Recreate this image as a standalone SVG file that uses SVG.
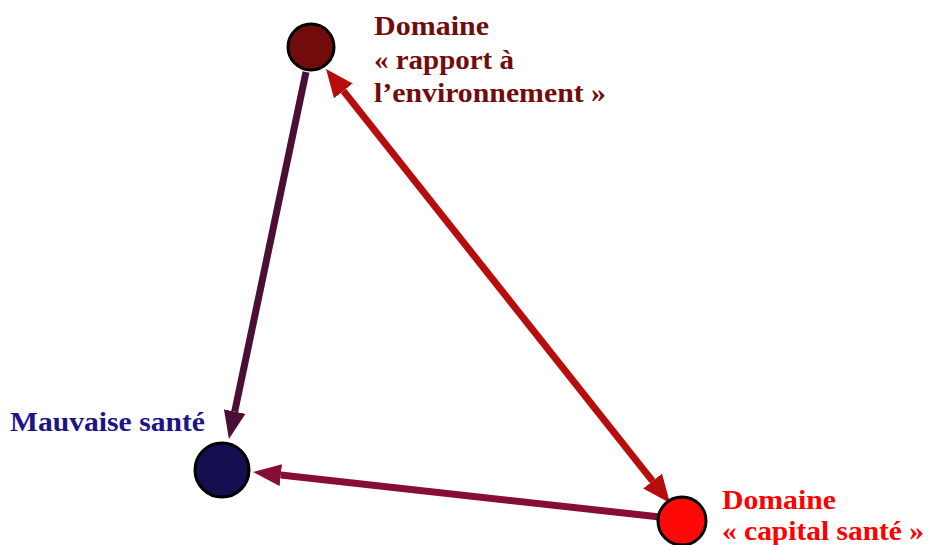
<svg xmlns="http://www.w3.org/2000/svg" width="928" height="545" viewBox="0 0 928 545">
<style>
.lbl{font-family:"Liberation Serif","DejaVu Serif",serif;font-weight:bold;font-size:28px}
.node{stroke:#000;stroke-width:3}
.edge{fill:none;stroke-width:7}
</style>
<defs>
<marker id="h1" markerUnits="userSpaceOnUse" markerWidth="28" markerHeight="22" refX="0" refY="11" orient="auto"><path d="M0,0 L28,11 L0,22 z" fill="#4b0e35"/></marker>
<marker id="h2" markerUnits="userSpaceOnUse" markerWidth="28" markerHeight="22" refX="0" refY="11" orient="auto"><path d="M0,0 L28,11 L0,22 z" fill="#870d35"/></marker>
<marker id="h3" markerUnits="userSpaceOnUse" markerWidth="28" markerHeight="24" refX="0" refY="12" orient="auto-start-reverse"><path d="M0,0 L28,12 L0,24 z" fill="#b80d0d"/></marker>
</defs>
<rect width="928" height="545" fill="#fff"/>
<g id="connectors">
<path class="edge" d="M306,72 L234.7,411.6" stroke="#4b0e35" marker-end="url(#h1)"/>
<path class="edge" d="M660,517 L280.8,475.1" stroke="#870d35" marker-end="url(#h2)"/>
<path class="edge" d="M343.4,90.9 L652.6,481.1" stroke="#b80d0d" stroke-width="8" marker-start="url(#h3)" marker-end="url(#h3)"/>
</g>
<g id="node-env">
<circle class="node" cx="311" cy="47" r="23" fill="#720c0c"/>
<text class="lbl" fill="#720c0c"><tspan x="374" y="35" textLength="115" lengthAdjust="spacingAndGlyphs">Domaine</tspan><tspan x="374" y="69" textLength="140" lengthAdjust="spacingAndGlyphs">« rapport à</tspan><tspan x="374" y="102" textLength="232" lengthAdjust="spacingAndGlyphs">l’environnement »</tspan></text>
</g>
<g id="node-mauvaise">
<circle class="node" cx="222" cy="470" r="27" fill="#140f50"/>
<text class="lbl" fill="#1e1489" x="10" y="431" textLength="195" lengthAdjust="spacingAndGlyphs">Mauvaise santé</text>
</g>
<g id="node-capital">
<circle class="node" cx="682" cy="521" r="24" fill="#ff0808"/>
<text class="lbl" fill="#ff0000"><tspan x="722" y="509" textLength="114" lengthAdjust="spacingAndGlyphs">Domaine</tspan><tspan x="722" y="540" textLength="202" lengthAdjust="spacingAndGlyphs">« capital santé »</tspan></text>
</g>
</svg>
